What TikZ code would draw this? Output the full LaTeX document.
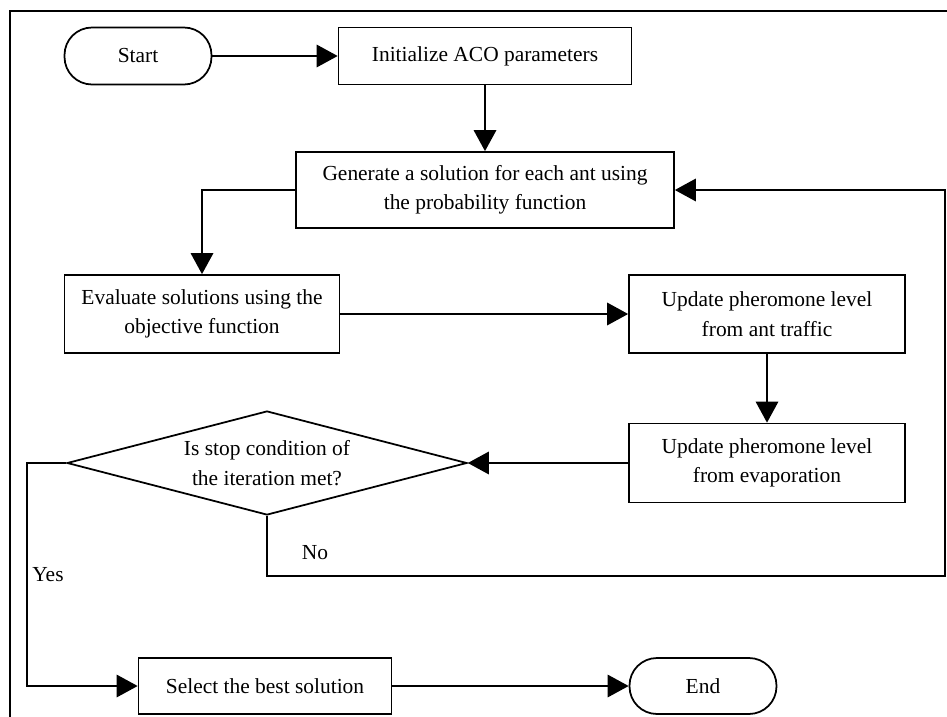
\documentclass[tikz,border=0pt]{standalone}
\usepackage{fontspec}
\setmainfont{Liberation Serif}
\usepackage{tikz}
\usetikzlibrary{arrows.meta,shapes.geometric}

\begin{document}
\begin{tikzpicture}[x=0.02cm,y=-0.02cm,
	every node/.style={font=\fontsize{12.2}{16.7}\selectfont},
	procbox/.style={draw,line width=1pt,rectangle,align=center,inner sep=0pt},
	termbox/.style={procbox,rounded corners=0.55cm},
	decbox/.style={draw,line width=1pt,diamond,aspect=3.85,align=center,inner sep=0pt},
	arr/.style={-{Triangle[length=0.42cm,width=0.45cm]},line width=0.9pt}]
	\useasboundingbox (0,0) rectangle (947,717);
	
	%frame
	\draw[line width=1.2pt] (947,11) -- (10,11) -- (10,717);
	
	%top row
	\node[termbox,minimum width=2.94cm,minimum height=1.14cm] (start) at (138,56) {Start};
	\node[procbox,minimum width=5.86cm,minimum height=1.14cm] (init) at (485,56) {Initialize ACO parameters};
	\node[procbox,minimum width=7.56cm,minimum height=1.52cm] (gen) at (485,190) {Generate a solution for each ant using\\the probability function};
	
	%middle
	\node[procbox,minimum width=5.5cm,minimum height=1.56cm] (eval) at (202,314) {Evaluate solutions using the\\objective function};
	\node[procbox,minimum width=5.52cm,minimum height=1.56cm] (traffic) at (767,314) {Update pheromone level\\from ant traffic};
	\node[procbox,minimum width=5.52cm,minimum height=1.58cm] (evap) at (767,463) {Update pheromone level\\from evaporation};
	\node[decbox,minimum width=8cm,minimum height=2.08cm] (cond) at (267,463) {Is stop condition of\\the iteration met?};
	
	%bottom row
	\node[procbox,minimum width=5.06cm,minimum height=1.12cm] (best) at (265,686) {Select the best solution};
	\node[termbox,minimum width=2.94cm,minimum height=1.12cm] (fin) at (703,686) {End};
	
	\coordinate (yesbend) at (27,463);
	\coordinate (nobend) at (945,576);
	
	%connectors
	\draw[arr] (start) -- (init);
	\draw[arr] (init) -- (gen);
	\draw[arr] (gen.west) -| (eval.north);
	\draw[arr] (eval) -- (traffic);
	\draw[arr] (traffic) -- (evap);
	\draw[arr] (evap) -- (cond.east);
	\draw[arr] (cond.west) -- (yesbend) |- (best.west);
	\draw[arr] (cond.south) |- (nobend) |- (gen.east);
	\draw[arr] (best) -- (fin);
	
	\node (yes) at (48,575) {Yes};
	\node (no) at (315,553) {No};
\end{tikzpicture}
\end{document}
